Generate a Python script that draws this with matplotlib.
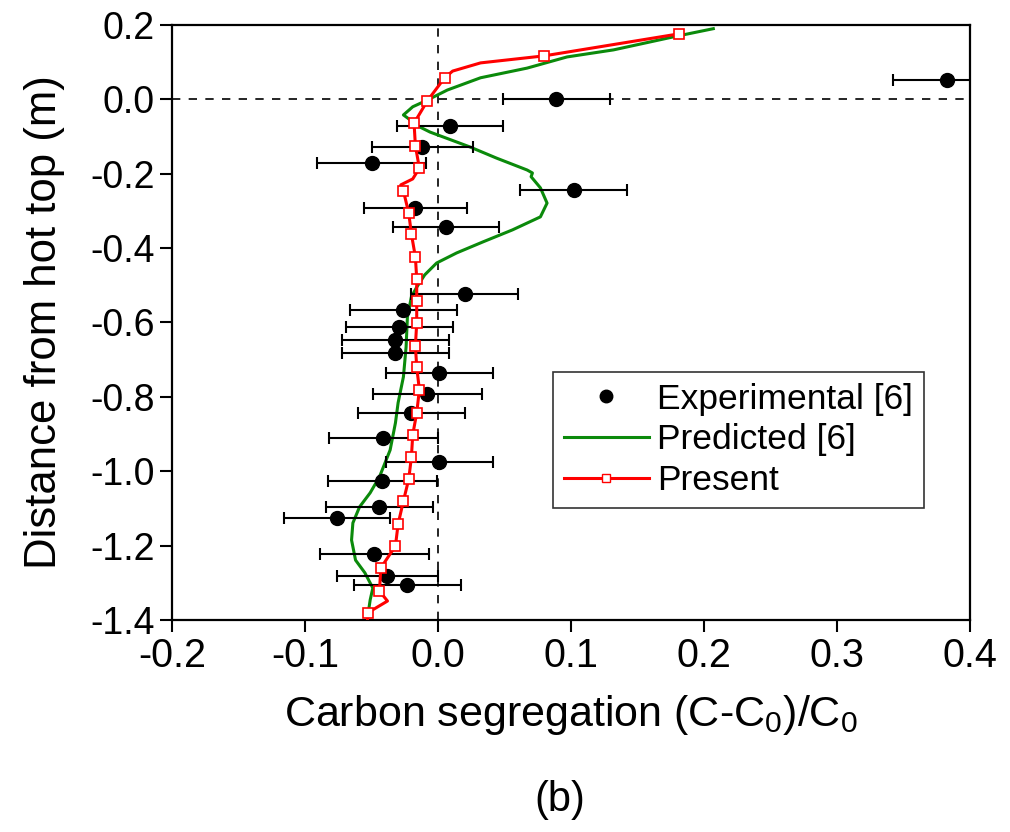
import numpy as np
import matplotlib
matplotlib.use("Agg")
import matplotlib.pyplot as plt
from matplotlib.lines import Line2D
from matplotlib.ticker import FormatStrFormatter

plt.rcParams['font.family'] = ['Liberation Sans', 'DejaVu Sans']
plt.rcParams['mathtext.default'] = 'regular'

# experimental points [6]
exp_x = [0.383, 0.089, 0.009, -0.012, -0.050, 0.102, -0.017, 0.006, 0.020, -0.026,
         -0.029, -0.032, -0.032, 0.001, -0.008, -0.020, -0.041, 0.001, -0.042, -0.044,
         -0.076, -0.048, -0.038, -0.023]
exp_y = [0.052, 0.001, -0.072, -0.128, -0.171, -0.244, -0.292, -0.343, -0.523, -0.566,
         -0.612, -0.647, -0.682, -0.736, -0.792, -0.843, -0.910, -0.975, -1.026, -1.096,
         -1.126, -1.222, -1.282, -1.306]
exp_err = [0.041, 0.040, 0.040, 0.038, 0.041, 0.040, 0.039, 0.040, 0.040, 0.040,
           0.040, 0.040, 0.040, 0.040, 0.041, 0.040, 0.041, 0.040, 0.041, 0.040,
           0.040, 0.041, 0.038, 0.040]

# predicted [6]
pred_x = [0.207, 0.177, 0.132, 0.097, 0.067, 0.032, 0.007, -0.008, -0.019, -0.026,
          -0.021, -0.015, -0.006, 0.024, 0.044, 0.067, 0.071, 0.070, 0.077, 0.082,
          0.077, 0.056, 0.034, 0.014, -0.001, -0.010, -0.016, -0.020, -0.023, -0.024,
          -0.026, -0.030, -0.032, -0.036, -0.044, -0.051, -0.059, -0.064, -0.065,
          -0.062, -0.055, -0.049, -0.051, -0.053]
pred_y = [0.190, 0.168, 0.133, 0.114, 0.084, 0.058, 0.025, -0.002, -0.020, -0.042,
          -0.055, -0.072, -0.088, -0.128, -0.158, -0.190, -0.198, -0.208, -0.238, -0.279,
          -0.316, -0.351, -0.383, -0.413, -0.440, -0.472, -0.505, -0.531, -0.585, -0.666,
          -0.746, -0.816, -0.870, -0.943, -1.015, -1.058, -1.096, -1.139, -1.185,
          -1.239, -1.273, -1.314, -1.346, -1.394]

# present
pres_x = [0.181, 0.080, 0.032, 0.011, 0.005, -0.008, -0.018, -0.017, -0.014, -0.019,
          -0.028, -0.026, -0.022, -0.020, -0.017, -0.016, -0.016, -0.016, -0.017, -0.016,
          -0.014, -0.016, -0.019, -0.020, -0.022, -0.026, -0.030, -0.032, -0.043, -0.044,
          -0.038, -0.053, -0.053]
pres_y = [0.176, 0.117, 0.098, 0.076, 0.058, -0.004, -0.064, -0.125, -0.185, -0.214,
          -0.230, -0.246, -0.306, -0.362, -0.424, -0.483, -0.542, -0.601, -0.663, -0.720,
          -0.781, -0.843, -0.902, -0.962, -1.021, -1.080, -1.142, -1.201, -1.260, -1.322,
          -1.349, -1.381, -1.40]
pres_marks = [0, 1, 4, 5, 6, 7, 8, 11, 12, 13, 14, 15, 16, 17, 18, 19, 20, 21, 22, 23,
              24, 25, 26, 27, 28, 29, 31]

x_ticks = [-0.2, -0.1, 0.0, 0.1, 0.2, 0.3, 0.4]
y_ticks = [-1.4, -1.2, -1.0, -0.8, -0.6, -0.4, -0.2, 0.0, 0.2]

green = '#0b8a0b'
red = '#ff0000'

fig = plt.figure(figsize=(10.10, 8.32), dpi=100)
ax = fig.add_axes([0.1703, 0.2548, 0.7901, 0.7152])

ax.axhline(0, color='black', ls=(0, (5, 5)), lw=1.2, zorder=1)
ax.axvline(0, color='black', ls=(0, (5, 5)), lw=1.2, zorder=1)

ax.errorbar(exp_x, exp_y, xerr=exp_err, fmt='none', ecolor='black', elinewidth=1.5,
            capsize=4, capthick=1.5, zorder=3)
ax.plot(exp_x, exp_y, 'o', color='black', ms=10, zorder=4, clip_on=False)
ax.plot(pred_x, pred_y, color=green, lw=2.2, zorder=2)
ax.plot(pres_x, pres_y, color=red, lw=2.2, marker='s', ms=7, mfc='white',
        mec=red, mew=1.2, markevery=pres_marks, zorder=5)

ax.set_xlim(-0.2, 0.4)
ax.set_ylim(-1.4, 0.2)
ax.set_xticks(x_ticks)
ax.set_yticks(y_ticks)
ax.xaxis.set_major_formatter(FormatStrFormatter('%.1f'))
ax.yaxis.set_major_formatter(FormatStrFormatter('%.1f'))
ax.tick_params(direction='out', length=8.5, width=1.5, pad=4)
ax.tick_params(axis='x', labelsize=28.5)
ax.tick_params(axis='y', labelsize=27)
for s in ax.spines.values():
    s.set_linewidth(1.6)

ax.set_xlabel('Carbon segregation (C-C$_0$)/C$_0$', fontsize=31, labelpad=13)
ax.set_ylabel('Distance from hot top (m)', fontsize=31.5, labelpad=18)

handles = [
    Line2D([], [], ls='none', marker='o', color='black', ms=9),
    Line2D([], [], color=green, lw=2.2),
    Line2D([], [], color=red, lw=2.2, marker='s', ms=6, mfc='white', mec=red),
]
leg = ax.legend(handles, ['Experimental [6]', 'Predicted [6]', 'Present'],
                loc='upper left', bbox_to_anchor=(0.4774, 0.4168), fontsize=25.5,
                frameon=True, fancybox=False, edgecolor='black', handlelength=2.4,
                borderpad=0.3, labelspacing=0.22, handletextpad=0.25, borderaxespad=0)
leg.get_frame().set_linewidth(1.2)

fig.text(0.554, 0.038, '(b)', fontsize=30, ha='center', va='center')

fig.savefig('out.png', dpi=100)
